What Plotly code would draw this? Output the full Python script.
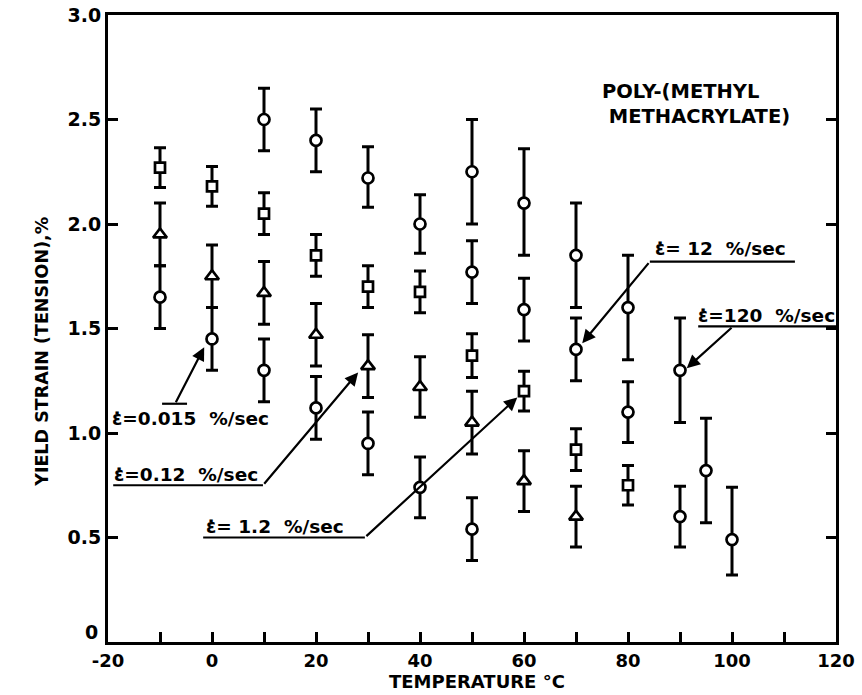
import plotly.graph_objects as go

# ---- data ----
# strain rate 0.015 %/sec (circles)
x_0015 = [-10, 0, 10, 20, 30, 40, 50]
y_0015 = [1.65, 1.45, 1.30, 1.12, 0.95, 0.74, 0.54]
e_0015 = [0.15, 0.15, 0.15, 0.15, 0.15, 0.145, 0.15]

# strain rate 0.12 %/sec (triangles)
x_012 = [-10, 0, 10, 20, 30, 40, 50, 60, 70]
y_012 = [1.95, 1.75, 1.67, 1.47, 1.32, 1.22, 1.05, 0.77, 0.60]
e_012 = [0.15, 0.15, 0.15, 0.15, 0.15, 0.145, 0.15, 0.145, 0.145]

# strain rate 1.2 %/sec (squares)
x_12a = [-10, 0, 10, 20, 30, 40, 50, 60, 70, 80]
y_12a = [2.27, 2.18, 2.05, 1.85, 1.70, 1.675, 1.37, 1.20, 0.92, 0.75]
e_12a = [0.095, 0.095, 0.10, 0.10, 0.10, 0.10, 0.105, 0.095, 0.10, 0.095]

# strain rate 12 %/sec (circles)
x_12 = [50, 60, 70, 80, 90]
y_12 = [1.77, 1.59, 1.40, 1.10, 0.60]
e_12 = [0.15, 0.15, 0.15, 0.145, 0.145]

# strain rate 120 %/sec (circles)
x_120 = [10, 20, 30, 40, 50, 60, 70, 80, 90, 95, 100]
y_120 = [2.50, 2.40, 2.22, 2.00, 2.25, 2.10, 1.85, 1.60, 1.30, 0.82, 0.49]
e_120_hi = [0.15, 0.15, 0.15, 0.14, 0.25, 0.26, 0.25, 0.25, 0.25, 0.25, 0.25]
e_120_lo = [0.15, 0.15, 0.14, 0.14, 0.25, 0.25, 0.25, 0.25, 0.25, 0.25, 0.17]

x_tick_vals = [-20, -10, 0, 10, 20, 30, 40, 50, 60, 70, 80, 90, 100, 110, 120]
x_tick_text = ["-20", "", "0", "", "20", "", "40", "", "60", "", "80", "", "100", "", "120"]
y_tick_vals = [0, 0.5, 1.0, 1.5, 2.0, 2.5, 3.0]
y_tick_text = ["", "0.5", "1.0", "1.5", "2.0", "2.5", "3.0"]
y_zero_label = "0"   # drawn slightly raised, as in the reference

# label annotations: (text, x, y, underline x0, underline x1, underline y, kink x, tip x, tip y)
labels = [
    ("ε̇=0.015  %/sec", -4.2, 1.07, -9.6, -4.8, 1.14, -7.1, -1.5, 1.41),
    ("ε̇=0.12  %/sec", -5.0, 0.80, -19.0, 9.8, 0.75, 9.8, 28.1, 1.29),
    ("ε̇= 1.2  %/sec", 12.1, 0.555, -1.7, 29.4, 0.50, 29.4, 58.7, 1.17),
    ("ε̇= 12  %/sec", 97.7, 1.885, 84.2, 112.1, 1.82, 84.2, 71.2, 1.43),
    ("ε̇=120  %/sec", 106.7, 1.56, 93.5, 120.0, 1.51, 100.2, 91.3, 1.31),
]

FONT = "DejaVu Sans"

fig = go.Figure()

# underlines (drawn first so markers sit on top)
for (_, _, _, ux0, ux1, uy, _, _, _) in labels:
    fig.add_trace(go.Scatter(x=[ux0, ux1], y=[uy, uy], mode="lines",
                             line=dict(color="black", width=2.2),
                             hoverinfo="skip", showlegend=False))


def series(x, y, hi, lo, symbol, size):
    return go.Scatter(
        x=x, y=y, mode="markers", showlegend=False,
        marker=dict(symbol=symbol, size=size, color="white",
                    line=dict(color="black", width=2.7)),
        error_y=dict(type="data", symmetric=False, array=hi, arrayminus=lo,
                     color="black", thickness=3, width=6),
    )


fig.add_trace(series(x_0015, y_0015, e_0015, e_0015, "circle", 11))
fig.add_trace(series(x_012, y_012, e_012, e_012, "triangle-up", 12))
fig.add_trace(series(x_12a, y_12a, e_12a, e_12a, "square", 10))
fig.add_trace(series(x_12, y_12, e_12, e_12, "circle", 11))
fig.add_trace(series(x_120, y_120, e_120_hi, e_120_lo, "circle", 11))

annotations = []
for (txt, tx, ty, ux0, ux1, uy, kx, px, py) in labels:
    annotations.append(dict(x=tx, y=ty, xref="x", yref="y", text="<b>" + txt + "</b>",
                            showarrow=False, font=dict(family=FONT, size=18.5, color="black")))
    annotations.append(dict(x=px, y=py, xref="x", yref="y", ax=kx, ay=uy,
                            axref="x", ayref="y", text="", showarrow=True,
                            arrowhead=2, arrowsize=1.2, arrowwidth=2.2, arrowcolor="black"))

annotations.append(dict(x=74.6, y=2.574, xref="x", yref="y", xanchor="left", align="left",
                        text="<b>POLY-(METHYL<br> METHACRYLATE)</b>", showarrow=False,
                        font=dict(family=FONT, size=19.5, color="black")))

# raised "0" label of the y axis
annotations.append(dict(x=-0.011, y=0.0159, xref="paper", yref="paper",
                        xanchor="right", yanchor="middle", text="<b>" + y_zero_label + "</b>",
                        showarrow=False, font=dict(family=FONT, size=19, color="black")))

# axis titles placed as annotations to match the reference positions
annotations.append(dict(x=-0.091, y=0.4625, xref="paper", yref="paper", textangle=-90,
                        xanchor="center", yanchor="middle",
                        text="<b>YIELD STRAIN (TENSION),%</b>", showarrow=False,
                        font=dict(family=FONT, size=17.5, color="black")))
annotations.append(dict(x=0.5068, y=-0.0829, xref="paper", yref="paper",
                        xanchor="center", yanchor="bottom",
                        text="<b>TEMPERATURE °C</b>", showarrow=False,
                        font=dict(family=FONT, size=18, color="black")))

fig.update_layout(
    width=862, height=695,
    margin=dict(l=108, r=26, t=15, b=53),
    plot_bgcolor="white", paper_bgcolor="white",
    annotations=annotations,
    xaxis=dict(range=[-20, 120], tickvals=x_tick_vals, ticktext=x_tick_text,
               ticks="inside", ticklen=10, tickwidth=2.5, tickcolor="black",
               showline=True, linewidth=3, linecolor="black", mirror=True,
               showgrid=False, zeroline=False, ticklabelstandoff=0, automargin=False,
               tickfont=dict(family=FONT, size=18, color="black", weight="bold")),
    yaxis=dict(range=[0, 3.0], tickvals=y_tick_vals, ticktext=y_tick_text,
               ticks="inside", ticklen=10, tickwidth=2.5, tickcolor="black",
               showline=True, linewidth=3, linecolor="black", mirror="ticks",
               showgrid=False, zeroline=False, automargin=False,
               tickfont=dict(family=FONT, size=19, color="black", weight="bold")),
)

fig.write_html("out.html")
